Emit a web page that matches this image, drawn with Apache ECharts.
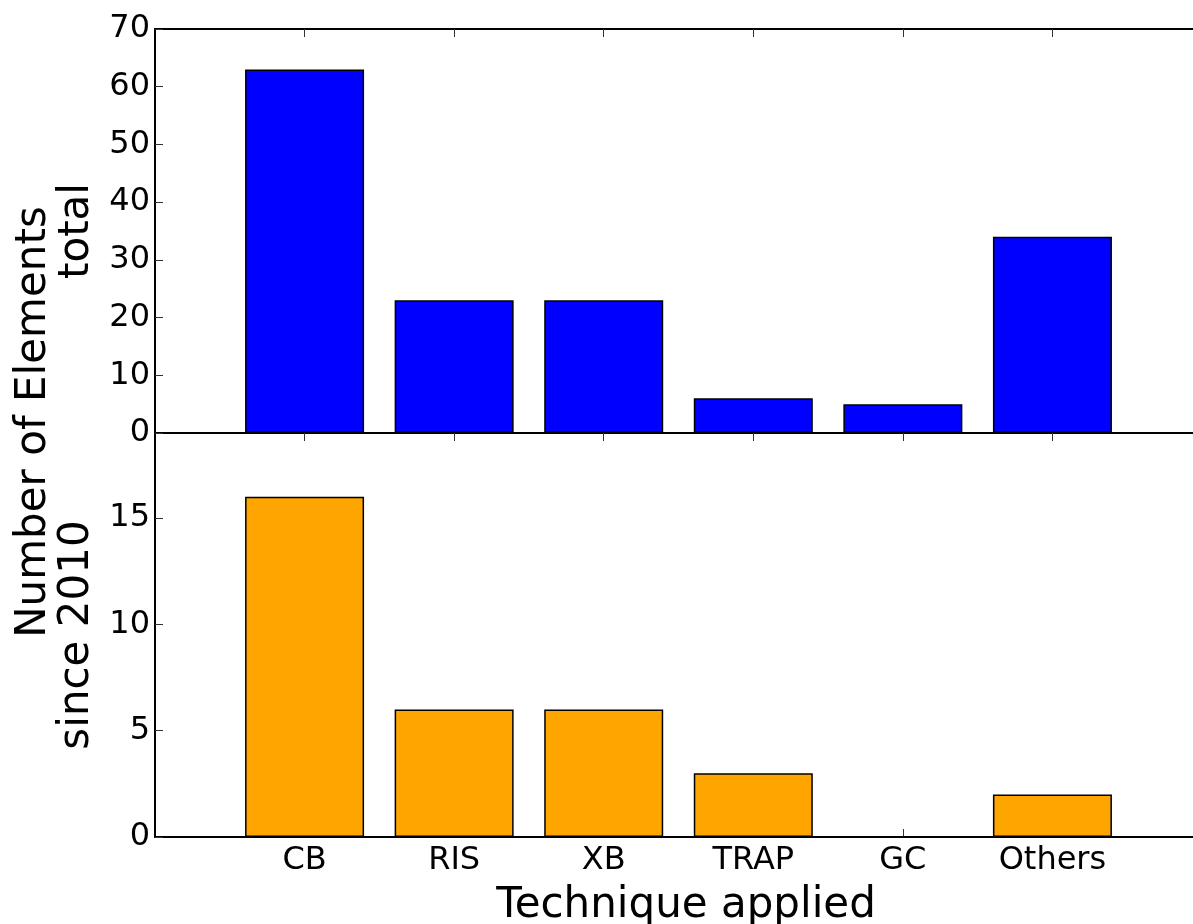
<!DOCTYPE html>
<html>
<head>
<meta charset="utf-8">
<script src="https://cdn.jsdelivr.net/npm/echarts@6/dist/echarts.min.js"></script>
<style>
html,body{margin:0;padding:0;background:#fff;overflow:hidden;}
#chart{width:1193px;height:924px;}
</style>
</head>
<body>
<div id="chart"></div>
<script>
// ---- data ----
var categories = ['CB', 'RIS', 'XB', 'TRAP', 'GC', 'Others'];
var totalValues = [63, 23, 23, 6, 5, 34];
var since2010Values = [16, 6, 6, 3, 0, 2];
var topTicks = [0, 10, 20, 30, 40, 50, 60, 70];
var bottomTicks = [0, 5, 10, 15];

var FONT = 'DejaVu Sans';
var chart = echarts.init(document.getElementById('chart'), null, {renderer: 'canvas'});

function toPairs(vals) { return vals.map(function (v, i) { return [i, v]; }); }

var gridLeft = 155, gridWidth = 1047;
var spine = {show: true, onZero: false, lineStyle: {color: '#000', width: 2}};
var tick = {show: true, inside: true, length: 8, lineStyle: {color: '#333', width: 1}};

function xAxisBase(gridIndex, position, showLine, showLabel) {
  return {
    type: 'value', gridIndex: gridIndex, position: position,
    min: -1, max: 6, interval: 1,
    axisLine: showLine ? spine : {show: false, onZero: false},
    axisTick: {show: true, inside: true, length: 8, lineStyle: {color: '#333', width: 1},
      customValues: categories.map(function (c, i) { return i; })},
    splitLine: {show: false},
    axisLabel: {
      show: showLabel, margin: 8, color: '#000', fontFamily: FONT, fontSize: 32,
      formatter: function (v) { var i = Math.round(v); return (Math.abs(v - i) < 1e-6 && i >= 0 && i < categories.length) ? categories[i] : ''; }
    }
  };
}

var option = {
  animation: false,
  backgroundColor: '#fff',
  grid: [
    {left: gridLeft, width: gridWidth, top: 29, height: 404, outerBoundsMode: 'none', containLabel: false},
    {left: gridLeft, width: gridWidth, top: 433, height: 404, outerBoundsMode: 'none', containLabel: false}
  ],
  xAxis: [
    xAxisBase(0, 'bottom', true, false),
    xAxisBase(0, 'top', true, false),
    Object.assign(xAxisBase(1, 'bottom', true, true), {
      name: 'Technique applied', nameLocation: 'middle', nameGap: 48,
      nameTextStyle: {color: '#000', fontFamily: FONT, fontSize: 42, padding: [0, 0, 0, 15]}
    }),
    xAxisBase(1, 'top', false, false)
  ],
  yAxis: [
    {
      type: 'value', gridIndex: 0, min: 0, max: 70, interval: 10,
      axisLine: spine, axisTick: tick, splitLine: {show: false},
      axisLabel: {margin: 5, color: '#000', fontFamily: FONT, fontSize: 32,
        formatter: function (v) { return topTicks.indexOf(v) >= 0 ? String(v) : ''; }},
      name: 'total', nameLocation: 'middle', nameGap: 46,
      nameTextStyle: {color: '#000', fontFamily: FONT, fontSize: 42}
    },
    {
      type: 'value', gridIndex: 1, min: 0, max: 19, interval: 5,
      axisLine: spine, axisTick: tick, splitLine: {show: false},
      axisLabel: {margin: 5, color: '#000', fontFamily: FONT, fontSize: 32, showMaxLabel: false,
        formatter: function (v) { return bottomTicks.indexOf(v) >= 0 ? String(v) : ''; }},
      name: 'since 2010', nameLocation: 'middle', nameGap: 46,
      nameTextStyle: {color: '#000', fontFamily: FONT, fontSize: 42}
    }
  ],
  graphic: [
    {
      type: 'text', x: 34, y: 422, rotation: Math.PI / 2,
      style: {text: 'Number of Elements', fontFamily: FONT, fontSize: 42, fill: '#000',
        align: 'center', verticalAlign: 'middle'}
    }
  ],
  series: [
    {
      type: 'bar', xAxisIndex: 0, yAxisIndex: 0, data: toPairs(totalValues),
      barWidth: 119,
      itemStyle: {color: '#0000ff', borderColor: '#000', borderWidth: 1.5}
    },
    {
      type: 'bar', xAxisIndex: 2, yAxisIndex: 1, data: toPairs(since2010Values),
      barWidth: 119,
      itemStyle: {color: '#ffa500', borderColor: '#000', borderWidth: 1.5}
    }
  ]
};
chart.setOption(option);
</script>
</body>
</html>
